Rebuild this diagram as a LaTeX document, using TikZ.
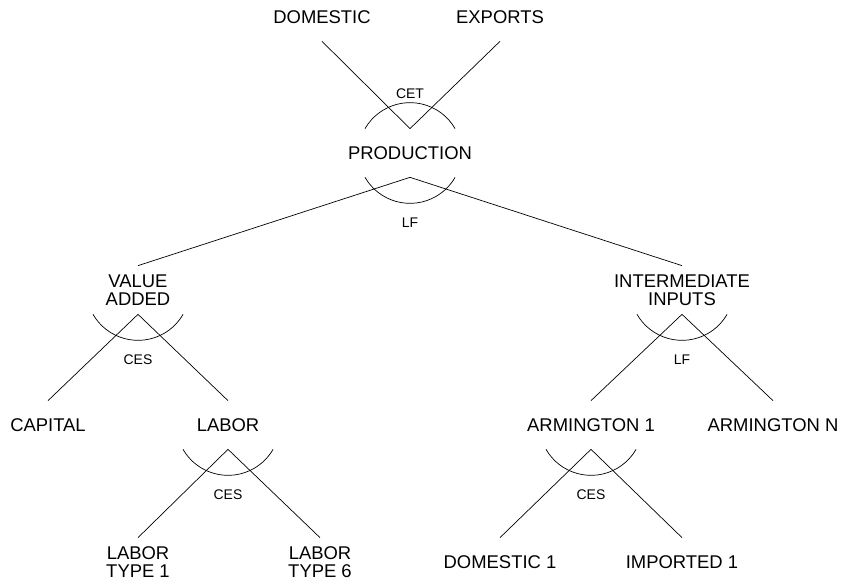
\documentclass[tikz,border=0pt]{standalone}
\usepackage{fontspec}
\setmainfont{Liberation Sans}

\begin{document}
\begin{tikzpicture}[x=1bp,y=1bp,line width=0.7bp,
    good/.style={align=center,inner sep=0pt,minimum height=48bp,font=\fontsize{18.5}{18.5}\selectfont},
    func/.style={inner sep=0pt,font=\fontsize{14}{14}\selectfont}]
    \useasboundingbox (0,0) rectangle (842,581);
    % outputs and production
    \node[good] (domestic) at (322,564) {DOMESTIC};
    \node[good] (exports) at (500,564) {EXPORTS};
    \node[good] (production) at (410,428) {PRODUCTION};
    % inputs
    \node[good] (valueadded) at (138,291) {VALUE\\ADDED};
    \node[good] (intermediate) at (682,291) {INTERMEDIATE\\INPUTS};
    \node[good] (capital) at (48,156) {CAPITAL};
    \node[good] (labor) at (228,156) {LABOR};
    \node[good] (armington1) at (591,156) {ARMINGTON 1};
    \node[good] (armingtonN) at (773,156) {ARMINGTON N};
    \node[good] (labor1) at (138,19) {LABOR\\TYPE 1};
    \node[good] (labor6) at (320,19) {LABOR\\TYPE 6};
    \node[good] (domestic1) at (500,19) {DOMESTIC 1};
    \node[good] (imported1) at (682,19) {IMPORTED 1};

    \draw (domestic.south) -- (production.north) -- (exports.south);
    \draw (valueadded.north) -- (production.south) -- (intermediate.north);
    \draw (capital.north) -- (valueadded.south) -- (labor.north);
    \draw (labor1.north) -- (labor.south) -- (labor6.north);
    \draw (armington1.north) -- (intermediate.south) -- (armingtonN.north);
    \draw (domestic1.north) -- (armington1.south) -- (imported1.north);

    % nesting arcs
    \draw ([xshift=-45bp]production.north) arc[start angle=150,end angle=30,radius=52bp];
    \foreach \n in {production,valueadded,labor,intermediate,armington1}
        \draw ([xshift=-45bp]\n.south) arc[start angle=210,end angle=330,radius=52bp];

    \node[func] (cet) at ([yshift=35bp]production.north) {CET};
    \node[func] (lfprod) at ([yshift=-45bp]production.south) {LF};
    \node[func] (cesva) at ([yshift=-45bp]valueadded.south) {CES};
    \node[func] (ceslab) at ([yshift=-45bp]labor.south) {CES};
    \node[func] (lfii) at ([yshift=-45bp]intermediate.south) {LF};
    \node[func] (cesarm) at ([yshift=-45bp]armington1.south) {CES};
\end{tikzpicture}
\end{document}
